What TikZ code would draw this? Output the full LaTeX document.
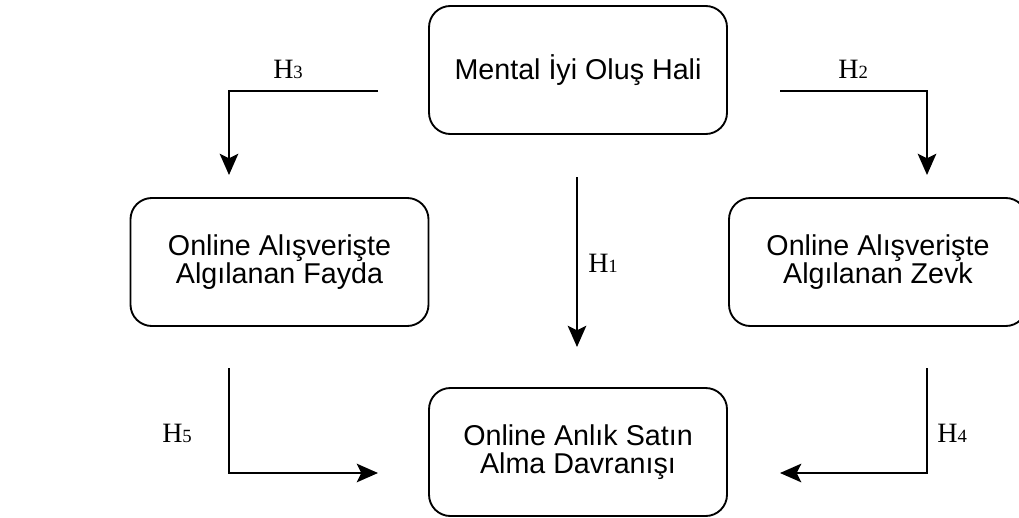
\documentclass[tikz,border=0pt]{standalone}
\usepackage{fontspec}
\setmainfont{Liberation Sans}
\newfontfamily\hfont{Liberation Serif}
\usetikzlibrary{arrows.meta}

\newcommand{\hnum}[1]{H{\fontsize{14}{14}\selectfont #1}}

\begin{document}
\begin{tikzpicture}[x=0.75pt, y=-0.75pt]
\tikzstyle{box} = [rectangle, rounded corners=16pt, draw=black, line width=1.4pt, minimum width=223.5pt, minimum height=96pt, align=center, font=\fontsize{21.5}{20.5}\selectfont]
\tikzstyle{arrow} = [-{Stealth[length=16pt, width=14pt, inset=3.5pt]}, line width=1.4pt]
\tikzstyle{hyp} = [anchor=base west, inner sep=0pt, font=\hfont\fontsize{21}{21}\selectfont]

\clip (0,0) rectangle (1019,517);

% Constructs
\node[box] (mental) at (578,70) {Mental İyi Oluş Hali};
\node[box] (fayda) at (279.5,262) {Online Alışverişte\\Algılanan Fayda};
\node[box] (zevk) at (878,262) {Online Alışverişte\\Algılanan Zevk};
\node[box] (satin) at (578,452) {Online Anlık Satın\\Alma Davranışı};

% Connector ends
\coordinate (h1a) at (577,177);
\coordinate (h1b) at (577,347);
\coordinate (h2a) at (780,91);
\coordinate (h2b) at (927,175);
\coordinate (h3a) at (378,91);
\coordinate (h3b) at (229,175);
\coordinate (h4a) at (927,368);
\coordinate (h4b) at (780,473);
\coordinate (h5a) at (229,368);
\coordinate (h5b) at (378,473);

% Hypotheses
\draw[arrow] (h1a) -- (h1b);
\draw[arrow] (h2a) -| (h2b);
\draw[arrow] (h3a) -| (h3b);
\draw[arrow] (h4a) |- (h4b);
\draw[arrow] (h5a) |- (h5b);

% Labels
\node[hyp] (l1) at (588,272) {\hnum{1}};
\node[hyp] (l2) at (838,79) {\hnum{2}};
\node[hyp] (l3) at (273,79) {\hnum{3}};
\node[hyp] (l4) at (937,442) {\hnum{4}};
\node[hyp] (l5) at (162,442) {\hnum{5}};
\end{tikzpicture}
\end{document}
